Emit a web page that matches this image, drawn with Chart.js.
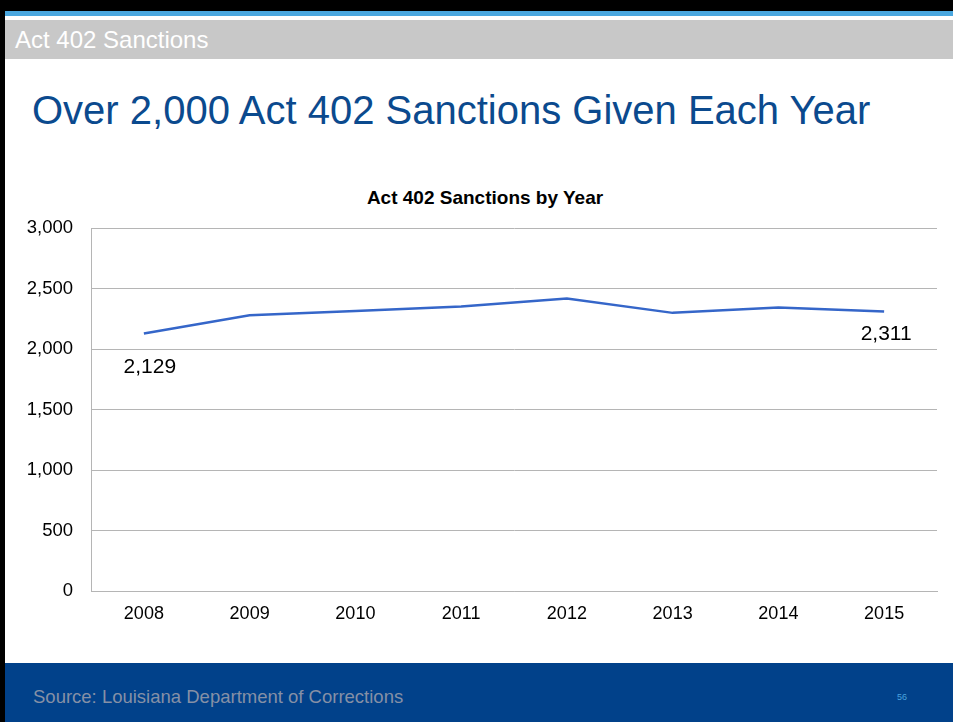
<!DOCTYPE html>
<html>
<head>
<meta charset="utf-8">
<script src="https://cdn.jsdelivr.net/npm/chart.js@4.4.1/dist/chart.umd.min.js"></script>
<style>
  html, body { margin: 0; padding: 0; }
  body { width: 953px; height: 722px; position: relative; overflow: hidden; background: #fff;
         font-family: "Liberation Sans", Arial, sans-serif; }
  .topBar { position: absolute; left: 0; top: 0; width: 953px; height: 11px; background: #000; }
  .stripe { position: absolute; left: 0; top: 11px; width: 953px; height: 5px; background: #4aa7df; }
  .sideBar { position: absolute; left: 0; top: 0; width: 5px; height: 722px; background: #000; }
  .header { position: absolute; left: 5px; top: 20px; width: 948px; height: 39px; background: #c8c8c8;
            color: #fff; font-size: 24px; line-height: 40px; padding-left: 10px; box-sizing: border-box; }
  .slideTitle { position: absolute; left: 32px; top: 88px; color: #0b4a8e; font-size: 40px; white-space: nowrap; }
  .chartTitle { position: absolute; left: 285px; width: 400px; top: 187px; text-align: center;
                font-size: 19px; font-weight: bold; color: #000; white-space: nowrap; }
  .footer { position: absolute; left: 5px; top: 663px; width: 948px; height: 59px; background: #01418a; }
  .source { position: absolute; left: 28px; top: 23px; color: #8590a6; font-size: 18.5px; white-space: nowrap; }
  .pageNo { position: absolute; left: 892px; top: 29px; color: #4aa3df; font-size: 9px; }
  .chartBox { position: absolute; left: 0; top: 199px; width: 953px; height: 448px; }
</style>
</head>
<body>
<div class="topBar"></div>
<div class="stripe"></div>
<div class="sideBar"></div>
<div class="header">Act 402 Sanctions</div>
<div class="slideTitle">Over 2,000 Act 402 Sanctions Given Each Year</div>
<div class="chartTitle">Act 402 Sanctions by Year</div>
<div class="chartBox"><canvas id="sanctionsChart"></canvas></div>
<div class="footer">
  <div class="source">Source: Louisiana Department of Corrections</div>
  <div class="pageNo">56</div>
</div>

<script>
// sanctions per year
const years = ["2008", "2009", "2010", "2011", "2012", "2013", "2014", "2015"];
const sanctions = [2129, 2280, 2316, 2352, 2418, 2300, 2345, 2311];
const yTicks = [0, 500, 1000, 1500, 2000, 2500, 3000];

const fmt = v => v.toLocaleString("en-US");
const FONT = "'Liberation Sans', Arial, sans-serif";

//-----------------------------------------------------------------------------
// value labels under the first and last points only
//-----------------------------------------------------------------------------
const endLabels = {
    id: "endLabels",
    afterDatasetsDraw(chart, args, opts) {
        const ctx = chart.ctx;
        const meta = chart.getDatasetMeta(0);
        const data = chart.data.datasets[0].data;
        ctx.save();
        ctx.font = `21px ${FONT}`;
        ctx.fillStyle = "#000";
        ctx.textAlign = "center";
        ctx.textBaseline = "middle";
        opts.points.forEach(p => {
            const pt = meta.data[p.index];
            ctx.fillText(fmt(data[p.index]), pt.x + p.dx, pt.y + p.dy);
        });
        ctx.restore();
    }
};

const ctx = document.getElementById("sanctionsChart").getContext("2d");
new Chart(ctx, {
    type: "line",
    data: {
        labels: years,
        datasets: [{
            label: "Act 402 Sanctions",
            data: sanctions,
            borderColor: "#3566c9",
            borderWidth: 2.5,
            pointRadius: 0,
            tension: 0,
            fill: false
        }]
    },
    plugins: [endLabels],
    options: {
        responsive: true,
        maintainAspectRatio: false,
        animation: false,
        layout: { padding: { left: 0, right: 16, top: 7, bottom: 10 } },
        plugins: {
            legend: { display: false },
            tooltip: { enabled: false },
            endLabels: {
                points: [ { index: 0, dx: 6, dy: 34 }, { index: 7, dx: 2, dy: 23 } ]
            }
        },
        scales: {
            x: {
                offset: true,
                grid: { display: false, drawTicks: false },
                border: { display: true, color: "#b5b5b5", width: 1 },
                ticks: {
                    color: "#000",
                    padding: 12,
                    maxRotation: 0,
                    font: { family: FONT, size: 18 }
                }
            },
            y: {
                min: 0,
                max: 3000,
                afterBuildTicks: scale => { scale.ticks = yTicks.map(v => ({ value: v })); },
                afterFit: scale => { scale.width = 91; },
                grid: { color: "#b5b5b5", lineWidth: 1, drawTicks: false },
                border: { display: true, color: "#b5b5b5", width: 1 },
                ticks: {
                    color: "#000",
                    padding: 18,
                    callback: v => fmt(v),
                    font: { family: FONT, size: 18.5 }
                }
            }
        }
    }
});
</script>
</body>
</html>
